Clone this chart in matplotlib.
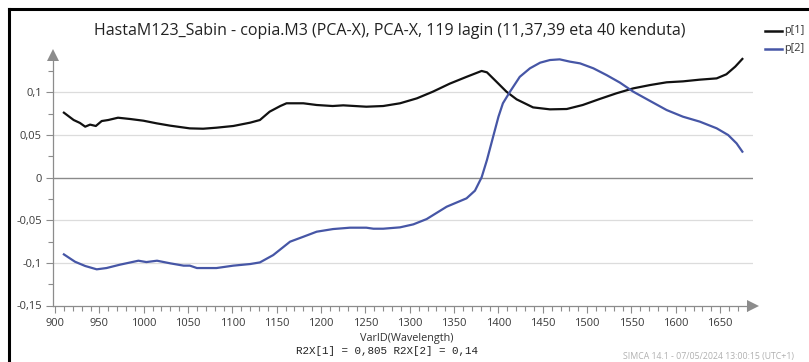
import matplotlib
matplotlib.use("Agg")
import matplotlib.pyplot as plt
from matplotlib.lines import Line2D
from matplotlib.ticker import MultipleLocator, FuncFormatter

# loading p[1]
wl_p1 = [910, 921, 928, 934, 939.5, 946, 952.6, 960, 971, 984.6, 999.6, 1014.6,
         1029.7, 1052, 1067, 1082, 1101, 1120, 1131, 1142, 1154, 1161, 1180,
         1195, 1213, 1225, 1251, 1270, 1289, 1308, 1326, 1345, 1364, 1381,
         1387, 1398, 1409, 1420.5, 1439, 1458, 1477, 1495, 1514, 1533, 1552,
         1571, 1589.6, 1608, 1627, 1646, 1657, 1667, 1675]
p1 = [0.076, 0.0674, 0.064, 0.0596, 0.062, 0.0604, 0.0662, 0.0674, 0.0701,
      0.0686, 0.0666, 0.0635, 0.0608, 0.0576, 0.0572, 0.0584, 0.0604, 0.0643,
      0.0674, 0.0772, 0.0838, 0.087, 0.087, 0.085, 0.0838, 0.0846, 0.083,
      0.0838, 0.087, 0.0928, 0.1006, 0.110, 0.118, 0.1249, 0.1233, 0.112,
      0.1006, 0.0916, 0.0822, 0.0799, 0.0803, 0.085, 0.092, 0.0987, 0.1045,
      0.1084, 0.1116, 0.1127, 0.1147, 0.1162, 0.121, 0.130, 0.139]

# loading p[2]
wl_p2 = [910, 922.5, 934, 947, 958, 973, 994, 1003, 1015, 1030, 1045, 1052,
         1060, 1082, 1101, 1120, 1131, 1146, 1165, 1180, 1195, 1213.5, 1232.6,
         1251, 1259, 1270, 1289, 1304, 1319, 1341.6, 1364, 1373.5, 1381, 1387,
         1394, 1400, 1405, 1413, 1424, 1435.5, 1447, 1458, 1469, 1480.6, 1492,
         1507, 1522, 1537, 1552, 1571, 1589.6, 1608, 1627, 1646, 1659, 1668.5,
         1675]
p2 = [-0.0901, -0.0987, -0.1037, -0.1076, -0.1061, -0.1022, -0.0975, -0.0991,
      -0.0975, -0.1006, -0.1033, -0.1033, -0.1061, -0.1061, -0.1033, -0.1014,
      -0.0995, -0.0909, -0.0752, -0.0694, -0.0635, -0.0604, -0.0588, -0.0588,
      -0.060, -0.060, -0.0584, -0.0549, -0.0487, -0.0342, -0.0244, -0.0154,
      0.0002, 0.0205, 0.0479, 0.0713, 0.087, 0.1006, 0.118, 0.128, 0.1346,
      0.1377, 0.1385, 0.1358, 0.1338, 0.128, 0.120, 0.1112, 0.1006, 0.0897,
      0.0791, 0.0713, 0.0655, 0.0577, 0.0498, 0.040, 0.0303]

series_names = ["p[1]", "p[2]"]
title = "HastaM123_Sabin - copia.M3 (PCA-X), PCA-X, 119 lagin (11,37,39 eta 40 kenduta)"
xlabel = "VarID(Wavelength)"
r2x_line = "R2X[1] = 0,805 R2X[2] = 0,14"
footer = "SIMCA 14.1 - 07/05/2024 13:00:15 (UTC+1)"

plt.rcParams["font.family"] = ["Open Sans", "DejaVu Sans"]
W, H = 809, 362
fig = plt.figure(figsize=(W / 100, H / 100), dpi=100)
ax = fig.add_axes([53 / W, 1 - 305.5 / H, 700 / W, 250.5 / H])

axis_grey = "#8c8c8c"
ax.plot(wl_p1, p1, color="#111111", lw=1.6, solid_joinstyle="round", zorder=3)
ax.plot(wl_p2, p2, color="#4656a6", lw=1.6, solid_joinstyle="round", zorder=3)

ax.set_xlim(897.7, 1687)
ax.set_ylim(-0.15, 0.1436)

ax.xaxis.set_major_locator(MultipleLocator(50))
ax.xaxis.set_minor_locator(MultipleLocator(10))
ax.yaxis.set_major_locator(MultipleLocator(0.05))
ax.yaxis.set_minor_locator(MultipleLocator(0.025))

def comma_fmt(v, pos):
    if abs(v) < 1e-9:
        return "0"
    return ("%g" % round(v, 3)).replace(".", ",")

ax.yaxis.set_major_formatter(FuncFormatter(comma_fmt))
ax.xaxis.set_major_formatter(FuncFormatter(lambda v, p: "%d" % v))

ax.tick_params(axis="both", which="both", direction="out", color=axis_grey,
               labelcolor="#3a3a3a", labelsize=8)
ax.tick_params(axis="both", which="major", length=5, width=0.8)
ax.tick_params(axis="both", which="minor", length=3.5, width=0.8)
ax.tick_params(axis="x", pad=4)
ax.tick_params(axis="y", pad=3)

for s in ["top", "right"]:
    ax.spines[s].set_visible(False)
for s in ["left", "bottom"]:
    ax.spines[s].set_color(axis_grey)
    ax.spines[s].set_linewidth(0.9)

# horizontal grid, zero line darker
for yv in [-0.1, -0.05, 0.05, 0.1]:
    ax.axhline(yv, color="#dcdcdc", lw=0.9, zorder=1)
ax.axhline(0, color="#8a8a8a", lw=1.0, zorder=2)

# axis arrows
ax.plot([1], [0], marker=">", markersize=9, color=axis_grey, transform=ax.transAxes,
        clip_on=False, markeredgewidth=0)
ax.plot([0], [1.0], marker="^", markersize=9, color=axis_grey, transform=ax.transAxes,
        clip_on=False, markeredgewidth=0)

fig.text(390 / W, 1 - 31 / H, title, ha="center", va="center", fontsize=11.5, color="#222222")
fig.text(407 / W, 1 - 338 / H, xlabel, ha="center", va="center", fontsize=7.8, color="#333333")
fig.text(387 / W, 1 - 351 / H, r2x_line, ha="center", va="center", fontsize=7.8,
         family="Liberation Mono", color="#222222")
fig.text(623 / W, 1 - 356 / H, footer, ha="left", va="center", fontsize=6.3, color="#b0b0b0")

# legend
for i, (name, col) in enumerate(zip(series_names, ["#111111", "#4656a6"])):
    yy = 1 - (31 + i * 17.5) / H
    fig.add_artist(Line2D([765 / W, 782 / W], [yy, yy], color=col, lw=1.8))
    fig.text(784 / W, yy, name, ha="left", va="center", fontsize=7.8, color="#333333")

# screenshot frame along top and left
fig.add_artist(Line2D([9 / W, 1], [1 - 8.5 / H, 1 - 8.5 / H], color="black", lw=2.2))
fig.add_artist(Line2D([9 / W, 9 / W], [1 - 8.5 / H, 0], color="black", lw=2.2))

fig.savefig("out.png", dpi=100)
